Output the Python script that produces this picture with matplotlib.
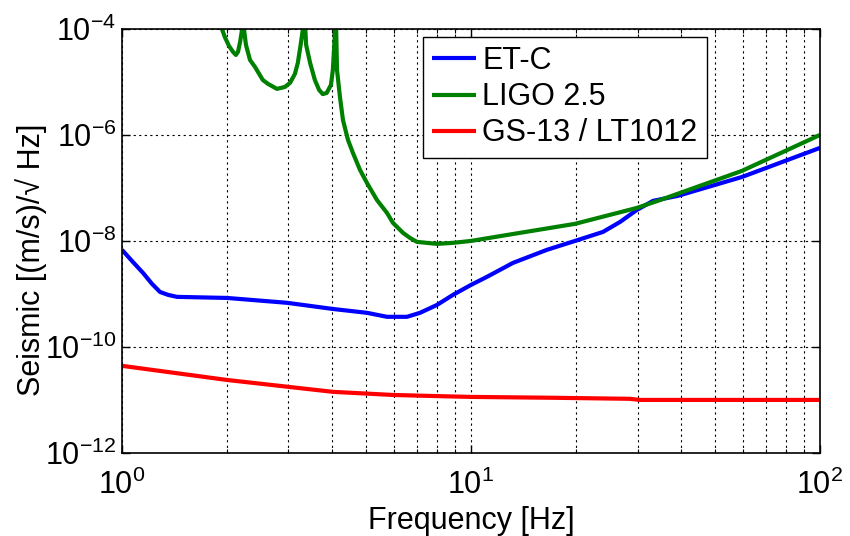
import matplotlib
matplotlib.use("Agg")
import matplotlib.pyplot as plt
from matplotlib.ticker import NullFormatter, LogLocator, FixedLocator
import numpy as np

plt.rcParams['font.family'] = ['Liberation Sans', 'DejaVu Sans']
plt.rcParams['mathtext.default'] = 'regular'

# ET-C
etc_f = [1.0, 1.075, 1.149, 1.219, 1.285, 1.355, 1.438, 2.0, 2.971, 4.024, 5.035, 5.745,
         6.555, 7.144, 7.99, 8.88, 10.0, 11.11, 13.19, 16.51, 19.86, 23.89, 26.73, 29.89,
         33.23, 39.18, 59.77, 100.0]
etc_v = [6.8e-9, 4.0e-9, 2.49e-9, 1.55e-9, 1.09e-9, 9.6e-10, 8.8e-10, 8.4e-10, 6.8e-10,
         5.2e-10, 4.4e-10, 3.7e-10, 3.7e-10, 4.4e-10, 6.2e-10, 9.6e-10, 1.48e-9, 2.1e-9,
         3.85e-9, 6.8e-9, 1.0e-8, 1.48e-8, 2.28e-8, 3.85e-8, 5.7e-8, 7.1e-8, 1.61e-7, 5.7e-7]

# LIGO 2.5
ligo_f = [1.90, 1.934, 1.97, 2.025, 2.08, 2.12, 2.15, 2.18, 2.21, 2.222, 2.236, 2.266,
          2.327, 2.405, 2.532, 2.62, 2.78, 2.93, 3.03, 3.13, 3.19, 3.25, 3.30, 3.315, 3.37,
          3.46, 3.57, 3.67, 3.76, 3.86, 3.97, 4.02, 4.05, 4.08, 4.09, 4.132, 4.213, 4.297,
          4.442, 4.59, 4.808, 5.035, 5.379, 5.745, 5.976, 6.387, 6.687, 7.0, 7.99, 8.88,
          10.0, 13.81, 19.86, 29.89, 34.8, 59.77, 100.0]
ligo_v = [3e-4, 1e-4, 7.1e-5, 4.8e-5, 3.7e-5, 3.23e-5, 3.7e-5, 5.7e-5, 1e-4, 4e-4, 1e-4,
          5e-5, 2.6e-5, 1.92e-5, 1.09e-5, 9.2e-6, 7.4e-6, 8.05e-6, 9.6e-6, 1.42e-5, 2.28e-5,
          5.0e-5, 1e-4, 4e-4, 5e-5, 2.28e-5, 1.09e-5, 7.1e-6, 5.9e-6, 6.2e-6, 8.8e-6,
          1.68e-5, 4e-5, 1e-4, 4e-4, 1.68e-5, 5.2e-6, 1.92e-6, 8.05e-7, 4.57e-7, 2.19e-7,
          1.24e-7, 5.9e-8, 3.38e-8, 2.19e-8, 1.42e-8, 1.14e-8, 9.6e-9, 8.8e-9, 9.2e-9,
          1.0e-8, 1.42e-8, 2.1e-8, 4.2e-8, 5.9e-8, 2.1e-7, 1.0e-6]

# GS-13 / LT1012
gs_f = [1.0, 2.0, 4.024, 5.98, 7.63, 10.0, 16.8, 28.5, 30.5, 100.0]
gs_v = [4.4e-11, 2.38e-11, 1.42e-11, 1.24e-11, 1.19e-11, 1.14e-11, 1.1e-11, 1.05e-11,
        1.0e-11, 1.0e-11]

fig = plt.figure(figsize=(8.5, 5.36), dpi=100)
ax = fig.add_axes([0.1435, 0.155, 0.8212, 0.791])

kw = dict(lw=3.0, solid_joinstyle='round', solid_capstyle='butt')
ax.loglog(etc_f, etc_v, color='#0000ff', label='ET-C', **kw)
ax.loglog(ligo_f, ligo_v, color='#008000', label='LIGO 2.5', **kw)
ax.loglog(gs_f, gs_v, color='#ff0000', label='GS-13 / LT1012', **kw)

ax.set_xlim(1, 100)
ax.set_ylim(1e-12, 1e-4)
ax.yaxis.set_major_locator(FixedLocator([1e-12, 1e-10, 1e-8, 1e-6, 1e-4]))
ax.yaxis.set_minor_locator(FixedLocator([]))
ax.xaxis.set_minor_locator(LogLocator(base=10, subs=np.arange(2, 10)))
ax.xaxis.set_minor_formatter(NullFormatter())

ax.grid(True, which='major', color='k', linestyle=(0, (2, 3)), lw=0.8)
ax.grid(True, which='minor', axis='x', color='k', linestyle=(0, (2, 3)), lw=0.8)
ax.tick_params(which='both', direction='in', top=True, right=True, labelsize=22)
ax.tick_params(axis='x', which='major', pad=12)
ax.tick_params(axis='y', which='major', pad=4)
ax.tick_params(which='major', length=6, width=1)
ax.tick_params(which='minor', length=3, width=0.8)
for s in ax.spines.values():
    s.set_linewidth(1.2)

ax.set_xlabel('Frequency [Hz]', fontsize=22, labelpad=4)
ax.set_ylabel('Seismic [(m/s)/\u221a Hz]', fontsize=22)
ax.yaxis.set_label_coords(-0.108, 0.455)

leg = ax.legend(loc='upper left', bbox_to_anchor=(0.431, 0.981), borderaxespad=0,
                fontsize=22, fancybox=False, edgecolor='k', framealpha=1,
                handlelength=1.45, handletextpad=0.2, labelspacing=0.2, borderpad=0.3)
leg.get_frame().set_linewidth(1.0)

plt.savefig('out.png', dpi=100)
